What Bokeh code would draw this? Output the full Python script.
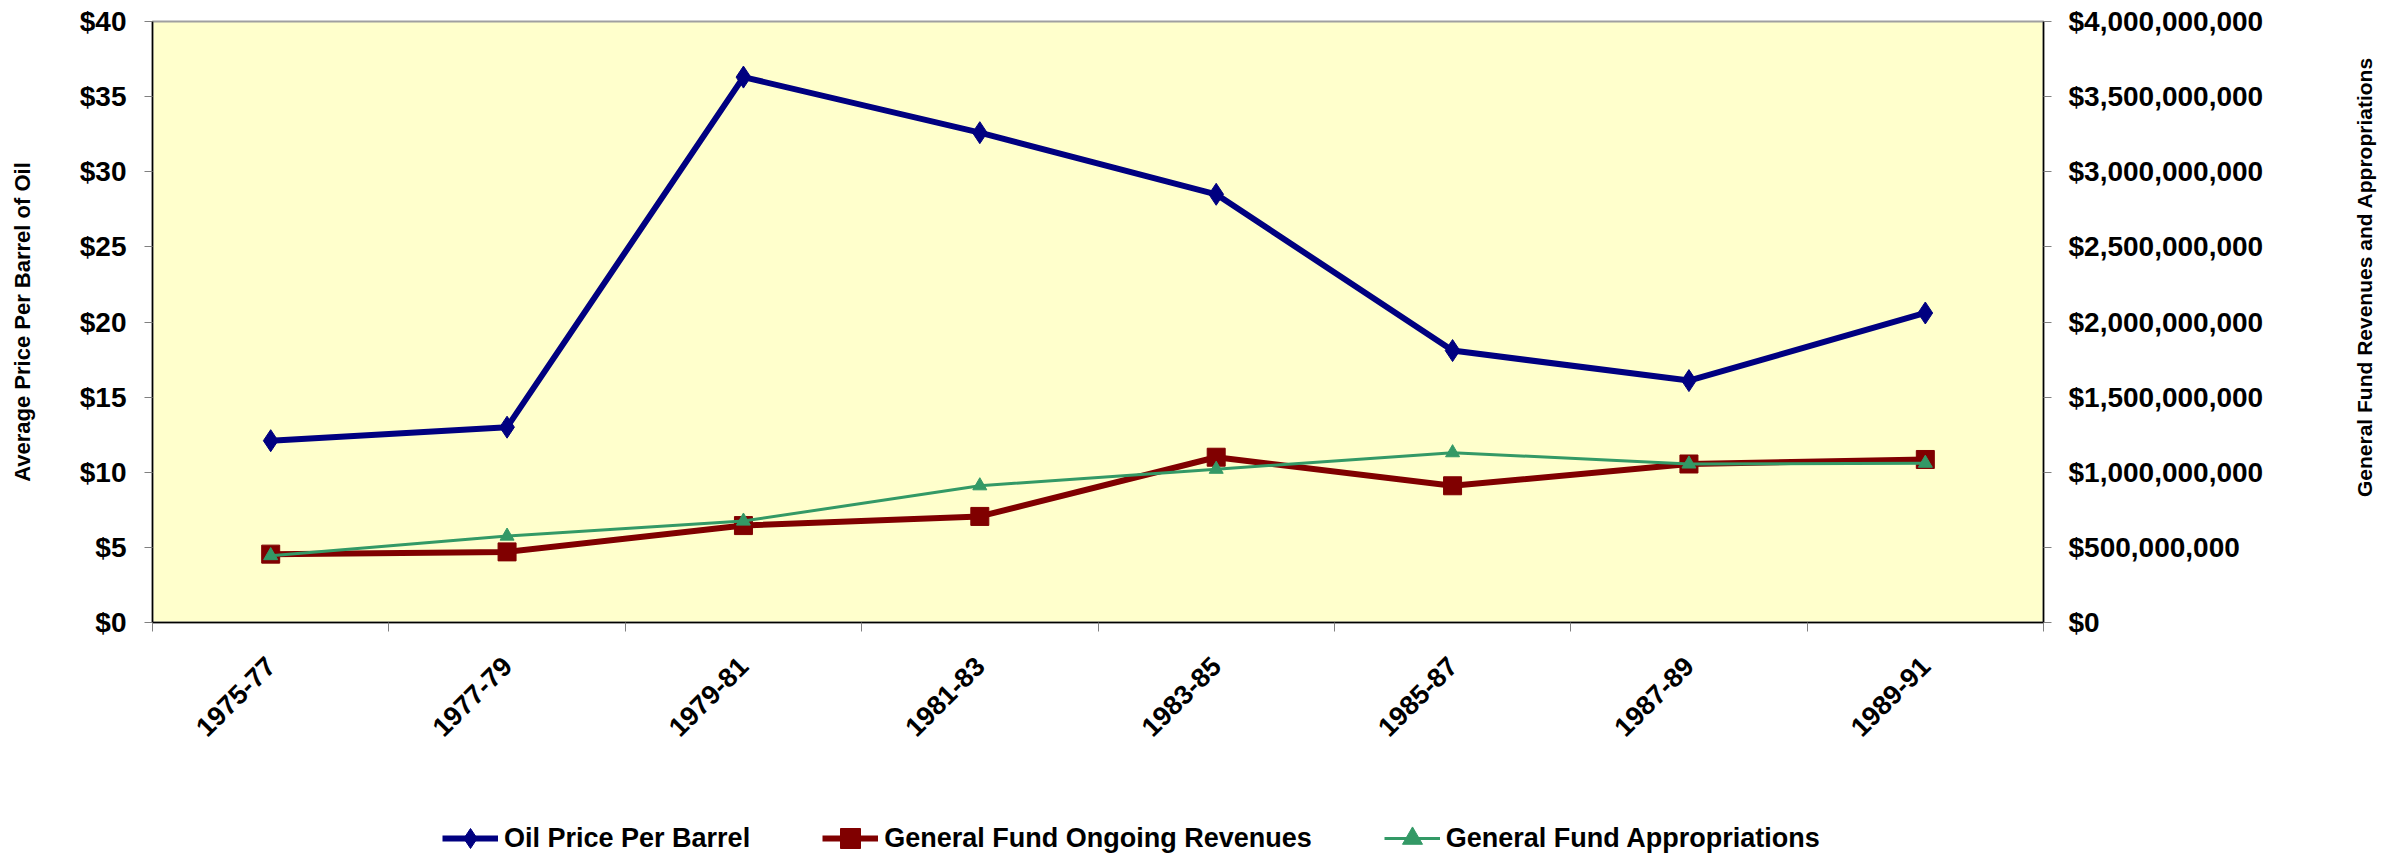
import math
from bokeh.plotting import figure
from bokeh.layouts import column, row
from bokeh.models import (Range1d, LinearAxis, FixedTicker, NumeralTickFormatter,
                          Legend, LegendItem)
from bokeh.core.properties import value
from bokeh.embed import file_html
from bokeh.resources import INLINE

periods = ["1975-77", "1977-79", "1979-81", "1981-83", "1983-85", "1985-87", "1987-89", "1989-91"]
oil_price = [12.1, 13.0, 36.3, 32.6, 28.5, 18.1, 16.1, 20.6]
revenues = [455e6, 470e6, 645e6, 706e6, 1100e6, 910e6, 1055e6, 1085e6]
appropriations = [445e6, 575e6, 675e6, 910e6, 1020e6, 1130e6, 1055e6, 1060e6]
left_ticks = [0, 5, 10, 15, 20, 25, 30, 35, 40]
right_ticks = [0, 500e6, 1000e6, 1500e6, 2000e6, 2500e6, 3000e6, 3500e6, 4000e6]
series_names = ["Oil Price Per Barrel", "General Fund Ongoing Revenues", "General Fund Appropriations"]
left_title = "Average Price Per Barrel of Oil"
right_title = "General Fund Revenues and Appropriations"

FONT = "Liberation Sans"
xs = [i + 0.5 for i in range(len(periods))]

MAIN_W, MAIN_H = 2300, 776
RT_W = 106
LEG_H = 80

p = figure(width=MAIN_W, height=MAIN_H, output_backend="svg", toolbar_location=None,
           x_range=Range1d(0, len(periods)), y_range=Range1d(0, 40),
           min_border_left=152, min_border_right=MAIN_W - 2043, min_border_top=21,
           min_border_bottom=MAIN_H - 622)
p.extra_y_ranges = {"right": Range1d(0, 4e9)}
p.background_fill_color = "#FFFFCC"
p.border_fill_color = "white"
p.outline_line_color = "#A0A0A0"
p.outline_line_width = 2
p.xgrid.visible = False
p.ygrid.visible = False

# x axis
xa = p.xaxis[0]
xa.ticker = FixedTicker(ticks=xs, minor_ticks=list(range(len(periods) + 1)))
xa.major_label_overrides = {x: lab for x, lab in zip(xs, periods)}
xa.major_tick_out = 0
xa.major_tick_in = 0
xa.minor_tick_out = 9
xa.minor_tick_in = 0
xa.minor_tick_line_color = "#808080"
xa.axis_line_color = "black"
xa.axis_line_width = 1.5
xa.major_label_orientation = math.pi / 4
xa.major_label_standoff = 30
xa.major_label_text_font = FONT
xa.major_label_text_font_style = "bold"
xa.major_label_text_font_size = "27px"
xa.major_label_text_color = "black"

# left axis
ya = p.yaxis[0]
ya.ticker = FixedTicker(ticks=left_ticks, minor_ticks=[])
ya.formatter = NumeralTickFormatter(format="$0")
ya.major_tick_out = 8
ya.major_tick_in = 0
ya.minor_tick_out = 0
ya.minor_tick_in = 0
ya.major_tick_line_color = "#808080"
ya.axis_line_color = "black"
ya.axis_line_width = 1.5
ya.major_label_standoff = 18
ya.major_label_text_font = FONT
ya.major_label_text_font_style = "bold"
ya.major_label_text_font_size = "28px"
ya.major_label_text_color = "black"
ya.axis_label = left_title
ya.axis_label_text_font = FONT
ya.axis_label_text_font_style = "bold"
ya.axis_label_text_font_size = "22px"
ya.axis_label_text_color = "black"
ya.axis_label_standoff = 42

# right axis
ra = LinearAxis(y_range_name="right")
ra.ticker = FixedTicker(ticks=right_ticks, minor_ticks=[])
ra.formatter = NumeralTickFormatter(format="$0,0")
ra.major_tick_out = 8
ra.major_tick_in = 0
ra.minor_tick_out = 0
ra.minor_tick_in = 0
ra.major_tick_line_color = "#808080"
ra.axis_line_color = "black"
ra.axis_line_width = 1.5
ra.major_label_standoff = 17
ra.major_label_text_font = FONT
ra.major_label_text_font_style = "bold"
ra.major_label_text_font_size = "28px"
ra.major_label_text_color = "black"
p.add_layout(ra, "right")

# series
oil_l = p.line(xs, oil_price, line_color="#000080", line_width=6)
oil_m = p.scatter(xs, oil_price, marker="diamond", size=22, fill_color="#000080",
                  line_color="#000080")
rev_l = p.line(xs, revenues, line_color="#800000", line_width=6, y_range_name="right")
rev_m = p.scatter(xs, revenues, marker="square", size=18, fill_color="#800000",
                  line_color="#800000", y_range_name="right")
app_l = p.line(xs, appropriations, line_color="#339966", line_width=3, y_range_name="right")
app_m = p.scatter(xs, appropriations, marker="triangle", size=14, fill_color="#339966",
                  line_color="#339966", y_range_name="right")

# right-hand axis title (reads bottom-to-top)
rt = figure(width=RT_W, height=MAIN_H, output_backend="svg", toolbar_location=None,
            x_range=Range1d(0, RT_W), y_range=Range1d(0, MAIN_H),
            x_axis_type=None, y_axis_type=None, min_border=0)
rt.outline_line_color = None
rt.background_fill_color = "white"
rt.xgrid.visible = False
rt.ygrid.visible = False
rt.text(x=[64], y=[MAIN_H - 330], text=[right_title], angle=math.pi / 2,
        text_align="center", text_baseline="middle",
        text_font=value(FONT), text_font_style="bold", text_font_size="21px",
        text_color="black")

# legend strip (legend-only renderers hold a single NaN point, so nothing is drawn)
nan = [float("nan")]
lg = figure(width=MAIN_W + RT_W, height=LEG_H, output_backend="svg", toolbar_location=None,
            x_range=Range1d(0, 1), y_range=Range1d(0, 1),
            x_axis_type=None, y_axis_type=None, min_border=0)
lg.outline_line_color = None
lg.xgrid.visible = False
lg.ygrid.visible = False
l1 = lg.line(nan, nan, line_color="#000080", line_width=6)
m1 = lg.scatter(nan, nan, marker="diamond", size=22, fill_color="#000080", line_color="#000080")
l2 = lg.line(nan, nan, line_color="#800000", line_width=6)
m2 = lg.scatter(nan, nan, marker="square", size=18, fill_color="#800000", line_color="#800000")
l3 = lg.line(nan, nan, line_color="#339966", line_width=3)
m3 = lg.scatter(nan, nan, marker="triangle", size=14, fill_color="#339966", line_color="#339966")

legend = Legend(items=[
    LegendItem(label=series_names[0], renderers=[l1, m1]),
    LegendItem(label=series_names[1], renderers=[l2, m2]),
    LegendItem(label=series_names[2], renderers=[l3, m3]),
], orientation="horizontal", location=(442, -7))
legend.label_text_font = FONT
legend.label_text_font_style = "bold"
legend.label_text_font_size = "27px"
legend.label_text_color = "black"
legend.glyph_width = 56
legend.glyph_height = 50
legend.label_standoff = 6
legend.spacing = 72
legend.border_line_color = None
legend.background_fill_alpha = 0
legend.margin = 0
legend.padding = 0
lg.add_layout(legend, "center")

layout = column(row(p, rt, spacing=0), lg, spacing=0)
open("out.html", "w").write(file_html(layout, INLINE))
